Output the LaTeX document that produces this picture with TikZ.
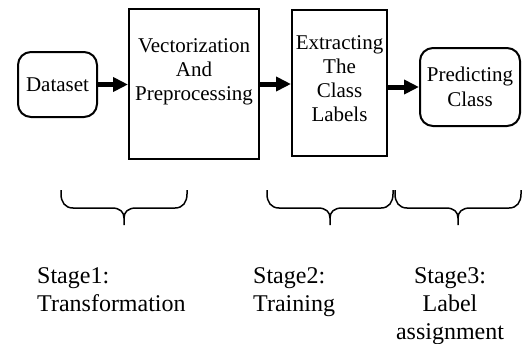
\documentclass[tikz,border=0pt]{standalone}
\usepackage{fontspec}
\setmainfont{Liberation Serif}
\usetikzlibrary{positioning, arrows.meta}

\begin{document}
\begin{tikzpicture}[x=1pt,y=-1pt,
  roundbox/.style={draw, line width=2pt, rounded corners=13pt, align=center, inner sep=0pt, font=\fontsize{21}{25}\selectfont},
  tallbox/.style={draw, line width=2pt, inner sep=0pt},
  boxtext/.style={align=center, inner sep=0pt, font=\fontsize{21}{24}\selectfont},
  stagetext/.style={inner sep=0pt, font=\fontsize{24}{28}\selectfont},
  flow/.style={line width=5pt, -{Triangle[length=15pt,width=14pt]}},
  stagebrace/.pic={
    \draw[line width=1.5pt] (0,0) -- (0,4) .. controls (0,12) and (4,18) .. (12,18) -- (51,18)
      .. controls (59,18) and (63,22) .. (63,28) -- (63,35);
    \draw[line width=1.5pt] (126,0) -- (126,4) .. controls (126,12) and (122,18) .. (114,18) -- (75,18)
      .. controls (67,18) and (63,22) .. (63,28);
  }]

  \useasboundingbox (0,0) rectangle (522,343);

  % Define boxes
  \node[roundbox, minimum width=79pt, minimum height=65pt] (dataset) at (57.5,84.5) {Dataset};
  \node[tallbox, minimum width=130pt, minimum height=150pt] (vector) at (194,84) {};
  \node[tallbox, minimum width=95pt, minimum height=146pt] (extract) at (339.5,83) {};
  \node[roundbox, minimum width=100pt, minimum height=78pt] (predict) at (470,87) {Predicting\\Class};

  % Box texts
  \node[boxtext] (vectortext) at (194,72) {Vectorization\\And\\Preprocessing};
  \node[boxtext] (extracttext) at (339.5,79) {Extracting\\The\\Class\\Labels};

  % Arrows
  \draw[flow] (dataset.east) -- (vector.west |- dataset.east);
  \draw[flow] (vector.east) -- (extract.west |- vector.east);
  \draw[flow] (extract.east |- predict.west) -- (predict.west);

  % Braces
  \pic (brace1) at (61,190) {stagebrace};
  \pic (brace2) at (267,190) {stagebrace};
  \pic (brace3) at (395,190) {stagebrace};

  % Stages
  \node[stagetext, align=left, anchor=north west] (stage1) at (37,267) {Stage1:\\Transformation};
  \node[stagetext, align=left, anchor=north west] (stage2) at (253,267) {Stage2:\\Training};
  \node[stagetext, align=center, anchor=north] (stage3) at (450,267) {Stage3:\\Label\\assignment};
\end{tikzpicture}
\end{document}
